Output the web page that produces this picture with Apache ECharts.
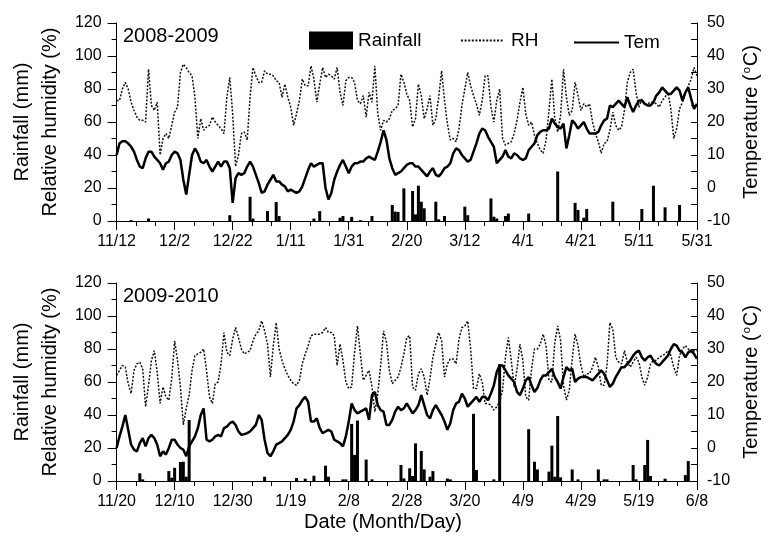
<!DOCTYPE html>
<html><head><meta charset="utf-8">
<script src="https://cdn.jsdelivr.net/npm/echarts@6/dist/echarts.min.js"></script>
<style>html,body{margin:0;padding:0;background:#fff}#c{width:769px;height:536px}</style>
</head><body><div id="c"></div>
<script>
// ---- tick labels (every 20 days) ----
const ticks0809 = ['11/12','12/2','12/22','1/11','1/31','2/20','3/12','4/1','4/21','5/11','5/31'];
const ticks0910 = ['11/20','12/10','12/30','1/19','2/8','2/28','3/20','4/9','4/29','5/19','6/8'];

// ---- 2008-2009 daily relative humidity (%) day 0..200 ----
const rh0809 = [73,73,80,84,80,72,67,63,61,61,60,92,70,67,72,40,50,53,50,58,66,
69,90,95,93,90,88,75,50,62,55,57,58,63,60,58,56,53,75,87,65,
33,40,53,54,49,75,93,88,84,84,91,89,89,88,85,84,75,83,75,69,
58,65,73,86,82,82,94,86,72,83,93,87,89,88,86,93,78,70,85,87,
87,84,73,71,76,63,78,72,94,65,55,61,60,62,67,68,70,89,84,77,
73,57,62,83,76,62,68,76,58,62,75,91,73,59,49,50,48,56,70,80,
90,82,76,71,64,73,88,88,69,60,73,80,50,46,47,48,53,61,72,81,
65,58,60,52,47,43,41,49,67,86,62,54,64,92,75,64,67,84,76,67,
71,69,71,60,53,48,41,47,48,55,66,58,55,57,67,84,90,92,78,69,
74,71,71,72,72,71,69,73,75,78,68,50,56,68,72,77,82,86,93,88];
// ---- 2008-2009 daily temperature (°C) ----
const tem0809 = [10,13.5,14.2,14.2,13.5,12.5,11,8.5,6.5,6,9,11,11,9.5,8.5,7.5,5.5,7.5,8,10,11,
10.5,8.5,2.5,-2,4,10,12,10.5,8,7.5,8.5,6.5,5,6.5,8,6.5,8,8,6,-4.5,
3,4.5,4,4.5,6.5,8,6.5,4,1.5,-1.5,-1,1,2.5,4,2,2,1,0.5,-1,-0.5,
-1,-1.5,-1,0.5,3,5.5,7.5,6.5,7,7.5,7.5,0,-3.5,-1.5,2.5,5,7,8.5,6.5,4.5,
6.5,7.5,7.5,8,8,9,9.5,9,8.5,11,14,17.5,14.5,9,6,4,4.5,5,6,7,
7.5,7.5,6.5,6.5,5.5,4.5,3.5,5,6,4,3.5,4.5,6,6.5,7.5,10.5,12,11.5,10,9,
8,8.5,11,13.5,16.5,18,17.5,15.5,14,12.5,7.5,8.5,9.5,11.5,9.5,9,10.5,10,9,8.5,
9,11.5,12.5,13.5,16,17,17.5,17.5,18,21,19.5,18.5,18,19.5,12,16,20.5,19.5,18,19,
20,18,16.5,16.5,16.5,17,19,20.5,21,25,24.5,25.5,26.5,25.5,24.5,27.5,25,23,25,26.5,
26.5,25.5,25,25,26,28,29,30.5,29.5,28.5,28.5,29.5,30.5,29.5,26.5,29,30.5,27,24,25.5];
// ---- 2008-2009 rainfall (mm): day index and amount ----
const rainDay0809 = [5,11,39,46,47,52,55,56,68,70,77,78,81,84,88,95,96,97,99,102,103,104,105,106,110,111,113,120,121,129,130,131,134,135,142,152,158,159,161,162,171,181,185,189,194];
const rainMm0809  = [0.5,1.5,3.5,14.7,1.5,6,11.5,3,1.5,6,2,3,2.5,0.5,3,9.7,5.7,5.5,19.8,18.2,4,21.4,11.7,7.7,11.7,1,3,8.7,3.5,13.7,2.6,1.5,3,4.5,4.5,30,11,6.7,2,7.3,11.7,7.3,21.4,8.3,9.7];

// ---- 2009-2010 daily relative humidity (%) ----
const rh0910 = [64,67,70,69,59,53,67,71,72,68,45,58,73,79,66,47,57,51,49,62,85,
73,57,34,44,52,67,76,77,78,80,67,51,47,59,60,71,90,78,76,86,
93,87,80,77,78,79,85,89,91,97,91,83,63,82,96,80,73,68,64,61,
59,58,61,71,77,82,88,89,89,89,90,93,90,90,88,70,83,73,60,56,
57,78,94,77,61,64,67,57,42,53,70,91,84,67,59,61,63,69,77,87,
88,57,55,65,68,63,52,62,75,83,90,85,63,71,74,74,71,86,93,94,
97,80,56,56,65,60,47,47,46,43,45,48,55,75,87,73,57,68,83,73,
51,49,68,80,80,83,89,82,61,60,84,94,85,58,49,55,74,89,82,70,
63,65,65,69,75,69,58,58,70,96,92,75,72,71,79,72,69,72,75,72,
63,58,63,71,73,73,75,76,77,79,76,69,64,76,80,82,80,78,79,79];
// ---- 2009-2010 daily temperature (°C) ----
const tem0910 = [0,3.5,6.5,10,5.5,1,-0.5,-1,1.5,3,0.5,3,4,3,1,-2.5,-1,-2,0,2.5,2.5,
1,0,-0.5,-2.5,0.5,2,3.5,6,10,12,2.5,2,2.5,3.5,4,3.5,6,6.5,7.5,8,
7,5,4,4.2,4.5,5,6,7,10,8.5,2.5,-1.5,-2.5,-1,1,1.5,2,3,4,5.5,
8,12,13,14.5,15.5,14,8,8,9,6,4.5,5,5.5,5,2.5,2,1.5,0.5,3.5,8,
13.5,11.5,10.5,11,11.5,12,8.5,16,17,13,11.5,11,7,7,8.5,11,12.5,11.5,12,13.5,
12,10.5,11.5,13,16,13,10,9,11.5,13,11.5,10,8,5.5,7.5,11.5,13.5,14,16.5,15,
12.5,13.5,14.5,15.5,14,15.5,15.5,14.5,16.5,19,23,25,25,23.5,22,21,20,17,16,18,
20.5,21.5,19,17,18.2,20.5,22,22,23,24,21.5,20,18,21.5,24.5,23.5,24,20,21,21.5,
21.5,21.5,21,20.5,21.5,22.5,23.5,22.5,20.5,18.5,19.5,21.5,23,24.5,24.5,25.5,26.5,28,29,29.5,
27.5,26.5,27.5,28,26.5,25.5,25,26,27,28,30,31.5,31,29.5,29,27.5,29,29.5,28.5,27];
// ---- 2009-2010 rainfall (mm) ----
const rainDay0910 = [8,9,18,19,20,22,23,24,25,51,62,65,68,72,73,78,79,81,82,83,86,88,98,99,101,102,103,105,106,108,109,114,115,123,124,130,132,142,144,145,149,150,151,152,153,157,159,166,168,169,178,179,182,183,184,189,196,197];
const rainMm0910  = [4.7,1,6,2,8,11.5,11.7,2.6,37,2.6,1.8,1.4,3.2,9.3,2.6,1,1,34.6,15.8,36.6,13,1,9.7,1.6,7.7,3,22.8,18.2,7,2.6,6,1.5,1,40.7,6.7,1,70.8,31.4,11.7,7,5.7,21.4,2.6,39.4,2.2,7,1,7,1,1,9.7,1,9.7,24.9,3,1.4,3.6,12.1];

const FONT = 'Liberation Sans, Arial, sans-serif';
const pair = arr => arr.map((v, i) => [i, v]);
const pairs = (ds, vs) => ds.map((d, i) => [d, vs[i]]);

function xAxis(gi, ticks) {
  return {
    type: 'value', gridIndex: gi, min: 0, max: 200, interval: 20,
    axisLine: { show: true, lineStyle: { color: '#000', width: 1 } },
    axisTick: { show: true, length: 9, lineStyle: { color: '#000' } },
    minorTick: { show: true, splitNumber: 3, length: 5, lineStyle: { color: '#000' } },
    splitLine: { show: false },
    axisLabel: { color: '#000', fontSize: 16, fontFamily: FONT, margin: 13,
      formatter: v => ticks[Math.round(v / 20)] }
  };
}
function leftAxis(gi) {
  return {
    type: 'value', gridIndex: gi, min: 0, max: 120, interval: 20, position: 'left', offset: 2,
    name: 'Rainfall (mm)\nRelative humidity (%)', nameLocation: 'middle', nameRotate: 90, nameGap: 44,
    nameTextStyle: { color: '#000', fontSize: 20, lineHeight: 28, fontFamily: FONT },
    axisLine: { show: true, lineStyle: { color: '#000' } },
    axisTick: { show: true, length: 9, lineStyle: { color: '#000' } },
    minorTick: { show: true, splitNumber: 2, length: 5, lineStyle: { color: '#000' } },
    splitLine: { show: false },
    axisLabel: { color: '#000', fontSize: 16, fontFamily: FONT, margin: 13 }
  };
}
function rightAxis(gi) {
  return {
    type: 'value', gridIndex: gi, min: -10, max: 50, interval: 10, position: 'right',
    name: '{t|Temperature (}{s|o}{t|C)}', nameLocation: 'middle', nameRotate: 90, nameGap: 36,
    nameTextStyle: { color: '#000', fontFamily: FONT,
      rich: { t: { fontSize: 20, fontFamily: FONT, color: '#000' },
              s: { fontSize: 11, fontFamily: FONT, color: '#000', padding: [0, 1, 9, 1] } } },
    axisLine: { show: true, lineStyle: { color: '#000' } },
    axisTick: { show: true, inside: true, length: 6, lineStyle: { color: '#000' } },
    minorTick: { show: true, splitNumber: 2, length: 6, lineStyle: { color: '#000' } },
    splitLine: { show: false },
    axisLabel: { color: '#000', fontSize: 16, fontFamily: FONT, margin: 10 }
  };
}
function seriesFor(gi, rain, rh, tem) {
  return [
    { name: 'Rainfall', type: 'bar', xAxisIndex: gi, yAxisIndex: gi * 2, data: rain,
      barWidth: 3, itemStyle: { color: '#000' }, z: 1 },
    { name: 'RH', type: 'line', xAxisIndex: gi, yAxisIndex: gi * 2, data: rh,
      symbol: 'none', lineStyle: { color: '#111', width: 1.5, type: [2, 1.6] }, itemStyle: { color: '#111' }, z: 2 },
    { name: 'Tem', type: 'line', xAxisIndex: gi, yAxisIndex: gi * 2 + 1, data: tem,
      symbol: 'none', lineStyle: { color: '#000', width: 2.5 }, itemStyle: { color: '#000' }, z: 3 }
  ];
}

const chart = echarts.init(document.getElementById('c'), null, { renderer: 'canvas' });
chart.setOption({
  animation: false,
  backgroundColor: '#fff',
  grid: [
    { left: 108, right: 58, top: 23, height: 198 },
    { left: 108, right: 58, top: 283, height: 198 }
  ],
  xAxis: [xAxis(0, ticks0809), xAxis(1, ticks0910)],
  yAxis: [leftAxis(0), rightAxis(0), leftAxis(1), rightAxis(1)],
  legend: [
    { data: [{ name: 'Rainfall', icon: 'rect' }], left: 304, top: 26, itemWidth: 44, itemHeight: 18,
      textStyle: { fontSize: 19, fontFamily: FONT, color: '#000' } },
    { data: ['RH'], left: 455, top: 26, itemWidth: 42, itemHeight: 18,
      itemStyle: { opacity: 0 },
      textStyle: { fontSize: 19, fontFamily: FONT, color: '#000', padding: [0, 0, 0, 3] } },
    { data: ['Tem'], left: 568, top: 28, itemWidth: 45, itemHeight: 18,
      itemStyle: { opacity: 0 },
      textStyle: { fontSize: 19, fontFamily: FONT, color: '#000' } }
  ],
  graphic: [
    { type: 'text', left: 123, top: 26, style: { text: '2008-2009', fontSize: 20, fontFamily: FONT, fill: '#000' } },
    { type: 'text', left: 123, top: 286, style: { text: '2009-2010', fontSize: 20, fontFamily: FONT, fill: '#000' } },
    { type: 'text', x: 383, y: 522, style: { text: 'Date (Month/Day)', fontSize: 20, fontFamily: FONT, fill: '#000', align: 'center', verticalAlign: 'middle' } }
  ],
  series: [
    ...seriesFor(0, pairs(rainDay0809, rainMm0809), pair(rh0809), pair(tem0809)),
    ...seriesFor(1, pairs(rainDay0910, rainMm0910), pair(rh0910), pair(tem0910))
  ]
});
</script>
</body></html>
